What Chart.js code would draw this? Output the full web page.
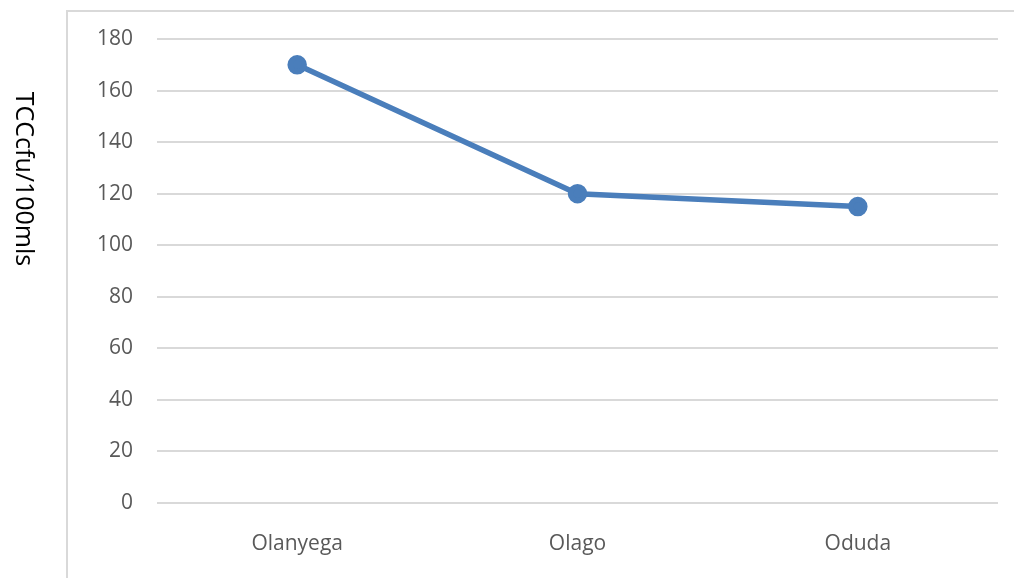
<!DOCTYPE html>
<html>
<head>
<meta charset="utf-8">
<script src="https://cdn.jsdelivr.net/npm/chart.js@4"></script>
<style>
  html, body { margin: 0; padding: 0; background: #fff; }
  #wrap { width: 1014px; height: 578px; }
</style>
</head>
<body>
<div id="wrap"><canvas id="myChart" width="1014" height="578"></canvas></div>
<script>
// datos
var sitios = ['Olanyega', 'Olago', 'Oduda'];
var tcc = [170, 120, 115];
var tituloY = 'TCCcfu/100mls';

// marco gris y titulo vertical (leido de arriba a abajo)
var marco = {
  id: 'marco',
  beforeDraw: function (chart) {
    var c = chart.ctx;
    c.save();
    c.strokeStyle = '#d9d9d9';
    c.lineWidth = 2;
    c.beginPath();
    c.moveTo(67, 578);
    c.lineTo(67, 11);
    c.lineTo(1014, 11);
    c.stroke();
    c.restore();
  },
  afterDraw: function (chart) {
    var c = chart.ctx;
    c.save();
    c.translate(23, 179);
    c.rotate(Math.PI / 2);
    c.fillStyle = '#000';
    c.font = '25px "Open Sans"';
    c.textAlign = 'center';
    c.textBaseline = 'middle';
    c.fillText(tituloY, 0, 0);
    c.restore();
  }
};

var ctx = document.getElementById('myChart').getContext('2d');
var chart = new Chart(ctx, {
  type: 'line',
  data: {
    labels: sitios,
    datasets: [{
      label: tituloY,
      data: tcc,
      borderColor: '#4a7ebb',
      backgroundColor: '#4a7ebb',
      borderWidth: 5.5,
      pointRadius: 7,
      pointHoverRadius: 7,
      tension: 0
    }]
  },
  plugins: [marco],
  options: {
    responsive: false,
    animation: false,
    layout: { padding: { top: 39, right: 16, left: 0, bottom: 0 } },
    plugins: {
      legend: { display: false },
      tooltip: { enabled: false }
    },
    scales: {
      x: {
        offset: true,
        grid: { display: false, drawTicks: false },
        border: { display: false },
        ticks: { color: '#595959', font: { family: 'Open Sans', size: 21 }, padding: 28 },
        afterFit: function (axis) { axis.height = 75; }
      },
      y: {
        min: 0,
        max: 180,
        grid: { color: '#d9d9d9', lineWidth: 2, drawTicks: false },
        border: { display: false },
        ticks: { stepSize: 20, color: '#595959', font: { family: 'Open Sans', size: 21 }, padding: 24 },
        afterFit: function (axis) { axis.width = 157; }
      }
    }
  }
});
</script>
</body>
</html>
